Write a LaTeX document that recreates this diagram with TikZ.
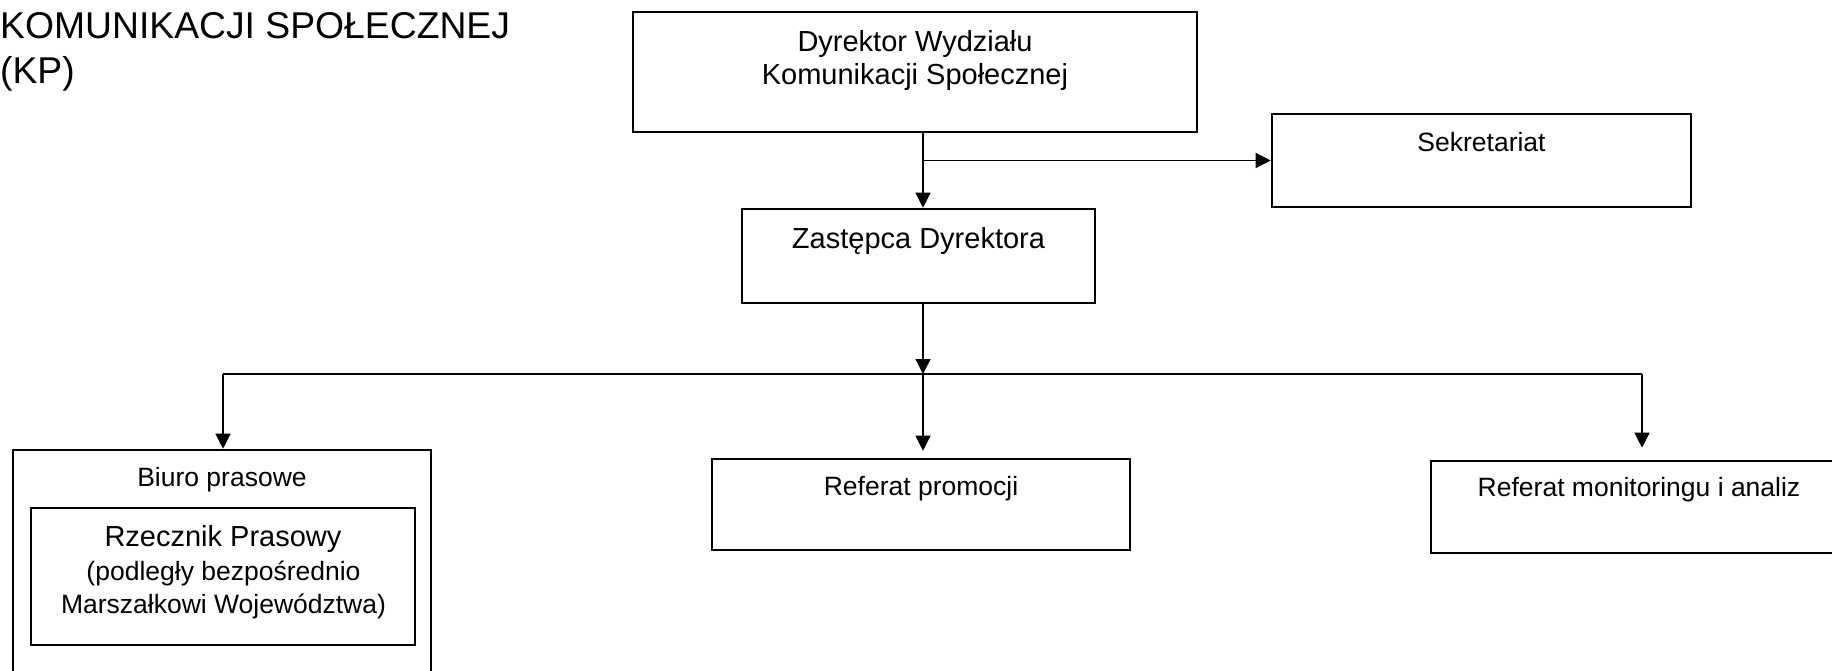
\documentclass[tikz,border=0pt]{standalone}
\usepackage{fontspec}
\setmainfont{Liberation Sans}
\usetikzlibrary{arrows.meta}
\begin{document}
\begin{tikzpicture}[x=1pt,y=-1pt,
  box/.style={draw=black, line width=2.6pt, rectangle, inner sep=0pt},
  lbl/.style={anchor=base, inner sep=0pt, font=\fontsize{26.5}{31}\selectfont},
  lblbig/.style={anchor=base, inner sep=0pt, font=\fontsize{29}{33}\selectfont},
  ttl/.style={anchor=base west, inner sep=0pt, font=\fontsize{37.3}{44}\selectfont},
  conn/.style={line width=1.3pt, draw=black},
  arr/.style={conn, -{Triangle[length=15pt,width=15pt]}}]
\useasboundingbox (0,0) rectangle (1832,671);
\clip (0,0) rectangle (1832,671);

% title
\node[ttl] (t1) at (0,38.3) {KOMUNIKACJI SPOŁECZNEJ};
\node[ttl] (t2) at (0,83.3) {(KP)};

% boxes
\node[box, minimum width=564pt, minimum height=120pt] (dyr) at (915,72) {};
\node[box, minimum width=419pt, minimum height=93pt] (sek) at (1481.5,160.5) {};
\node[box, minimum width=353pt, minimum height=94pt] (zas) at (918.5,256) {};
\node[box, minimum width=418pt, minimum height=250pt] (biuro) at (222,575) {};
\node[box, minimum width=384pt, minimum height=137pt] (rzecz) at (223,576.5) {};
\node[box, minimum width=418pt, minimum height=91pt] (promo) at (921,504.5) {};
\node[box, minimum width=416pt, minimum height=92pt] (monit) at (1639,507) {};

% labels
\node[lblbig] (dyr1) at (915,51.7) {Dyrektor Wydziału};
\node[lblbig] (dyr2) at (915,85) {Komunikacji Społecznej};
\node[lblbig] (zasl) at (918.5,248.3) {Zastępca Dyrektora};
\node[lbl] (sekl) at (1481.5,151.7) {Sekretariat};
\node[lbl] (biurol) at (222,486.7) {Biuro prasowe};
\node[lblbig] (rz1) at (223,546.7) {Rzecznik Prasowy};
\node[lbl] (rz2) at (223.5,580) {(podległy bezpośrednio};
\node[lbl] (rz3) at (223.5,613) {Marszałkowi Województwa)};
\node[lbl] (promol) at (921,495.3) {Referat promocji};
\node[lbl] (monitl) at (1639,496.7) {Referat monitoringu i analiz};

% connector coordinates
\coordinate (spine) at (923,0);
\coordinate (bus) at (923,374);
\coordinate (busL) at (223,374);
\coordinate (busR) at (1642,374);

% connectors
\draw[arr] (dyr.south -| spine) -- (zas.north -| spine);
\draw[arr] (spine |- sek.west) -- (sek.west);
\draw[arr] (zas.south -| spine) -- (bus);
\draw[conn] (busL) -- (busR);
\draw[arr] (busL) -- (biuro.north -| busL);
\draw[arr] (bus) -- ([yshift=7pt]promo.north -| bus);
\draw[arr] (busR) -- ([yshift=12pt]monit.north -| busR);
\end{tikzpicture}
\end{document}
